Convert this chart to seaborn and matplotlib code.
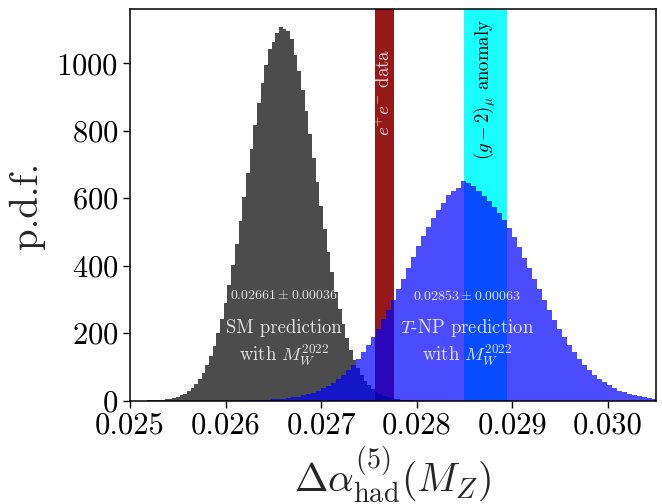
import numpy as np
import pandas as pd
import matplotlib
matplotlib.use("Agg")
import matplotlib.pyplot as plt
import seaborn as sns
from matplotlib.ticker import FormatStrFormatter

# ---------------- data ----------------
# SM prediction histogram (pdf values per bin)
sm_bin_start = 0.02498
sm_bin_width = 0.0000385
sm_heights = [
    0.06, 0.10, 0.16, 0.25, 0.39, 0.59, 0.89, 1.3, 1.9, 2.8,
    4.1, 5.8, 8.1, 11.3, 15.6, 21.1, 28.4, 37.7, 49.5, 64.1,
    82.4, 104.5, 131, 162.5, 199.4, 241.7, 289.8, 343.2, 402, 465.6,
    533, 603, 675, 746, 816, 882, 943, 996, 1041, 1063,
    1090, 1108, 1102, 1096, 1073, 1025, 977, 921, 859, 791,
    720, 648, 577, 508, 442, 380, 323, 272, 226, 185,
    151, 121, 96, 75, 58, 45, 34, 25.5, 18.9, 13.8,
    10.0, 7.2, 5.1, 3.5, 2.5, 1.7, 1.1, 0.8,
]

# T-NP prediction histogram
tnp_bin_start = 0.02600
tnp_bin_width = 0.0000525
tnp_heights = [
    0.24, 0.33, 0.45, 0.62, 0.84, 1.13, 1.5, 2.0, 2.7, 3.5,
    4.6, 5.9, 7.6, 9.7, 12.3, 15.5, 19.4, 24.0, 29.7, 36.3,
    44.1, 53.4, 64.0, 76.2, 90.3, 105.9, 123.5, 143.3, 164.8, 188.1,
    213.7, 240.7, 269.3, 299.4, 330.2, 361.7, 394.2, 425.7, 457.0, 487.2,
    515.8, 541.8, 566.1, 586.6, 610, 622, 630, 652, 645, 636,
    621, 608, 593, 575, 555, 535, 512, 485, 455, 424,
    392, 362, 330, 299, 269, 240, 213, 188, 165, 144,
    124, 106, 91, 77, 65, 54, 45, 37, 30, 24.5,
    19.8, 15.8, 12.5, 9.8, 7.7, 6.0, 4.6, 3.5,
]

sm_mean, sm_err = 0.02661, 0.00036
tnp_mean, tnp_err = 0.02853, 0.00063

ee_band = (0.02756, 0.02776)      # e+e- data
g2_band = (0.02849, 0.02894)      # (g-2)_mu anomaly

xticks = [0.025, 0.026, 0.027, 0.028, 0.029, 0.030]
yticks = [0, 200, 400, 600, 800, 1000]

# ---------------- style ----------------
sns.set_style("ticks")
plt.rcParams["font.family"] = "serif"
plt.rcParams["font.serif"] = ["cmr10", "DejaVu Serif"]
plt.rcParams["mathtext.fontset"] = "cm"
plt.rcParams["axes.unicode_minus"] = False
plt.rcParams["axes.formatter.use_mathtext"] = True
plt.rcParams["axes.edgecolor"] = "black"
plt.rcParams["xtick.color"] = "black"
plt.rcParams["ytick.color"] = "black"

fig = plt.figure(figsize=(6.62, 5.04), dpi=100)
ax = fig.add_axes([0.1964, 0.205, 0.7941, 0.7765])

ax.axvspan(*ee_band, color="darkred", alpha=0.9, lw=0, zorder=0)
ax.axvspan(*g2_band, color="cyan", alpha=0.9, lw=0, zorder=0)

sm_edges = [float(e) for e in sm_bin_start + sm_bin_width * np.arange(len(sm_heights) + 1)]
tnp_edges = [float(e) for e in tnp_bin_start + tnp_bin_width * np.arange(len(tnp_heights) + 1)]
sm_df = pd.DataFrame({"x": [0.5 * (a + b) for a, b in zip(sm_edges[:-1], sm_edges[1:])],
                      "w": [float(v) for v in sm_heights]})
tnp_df = pd.DataFrame({"x": [0.5 * (a + b) for a, b in zip(tnp_edges[:-1], tnp_edges[1:])],
                       "w": [float(v) for v in tnp_heights]})

sns.histplot(data=sm_df, x="x", weights="w", bins=sm_edges, element="step",
             fill=True, color="black", alpha=0.7, ax=ax, zorder=1,
             linewidth=0, edgecolor="none", antialiased=False)
sns.histplot(data=tnp_df, x="x", weights="w", bins=tnp_edges, element="step",
             fill=True, color="blue", alpha=0.7, ax=ax, zorder=2,
             linewidth=0, edgecolor="none", antialiased=False)

ax.set_xlim(0.025, 0.0305)
ax.set_ylim(0, 1160)
ax.set_xticks(xticks)
ax.set_yticks(yticks)
ax.xaxis.set_major_formatter(FormatStrFormatter("%.3f"))
ax.tick_params(labelsize=22, direction="out", length=5, width=1)
for s in ax.spines.values():
    s.set_linewidth(1.1)
    s.set_visible(True)

ax.set_xlabel(r"$\Delta\alpha^{(5)}_{\mathrm{had}}(M_Z)$", fontsize=29)
ax.set_ylabel("p.d.f.", fontsize=28, labelpad=8)

txt = dict(ha="center", va="center", color="white", alpha=0.85, zorder=5)
ax.text(sm_mean, 311, rf"${sm_mean:.5f} \pm {sm_err:.5f}$", fontsize=10, **txt)
ax.text(sm_mean, 215, "SM prediction", fontsize=13.5, **txt)
ax.text(sm_mean, 135, r"with $M_W^{2022}$", fontsize=13.5, **txt)
ax.text(tnp_mean, 311, rf"${tnp_mean:.5f} \pm {tnp_err:.5f}$", fontsize=10, **txt)
ax.text(tnp_mean, 215, r"$T$-NP prediction", fontsize=13.5, **txt)
ax.text(tnp_mean, 135, r"with $M_W^{2022}$", fontsize=13.5, **txt)

ax.text(sum(ee_band) / 2, 913, r"$e^{+}e^{-}$ data", rotation=90, fontsize=13.5, **txt)
ax.text(sum(g2_band) / 2, 922, r"$(g-2)_\mu$ anomaly", rotation=90, fontsize=13.5,
        ha="center", va="center", color="black", zorder=5)

fig.savefig("out.png", dpi=100)
